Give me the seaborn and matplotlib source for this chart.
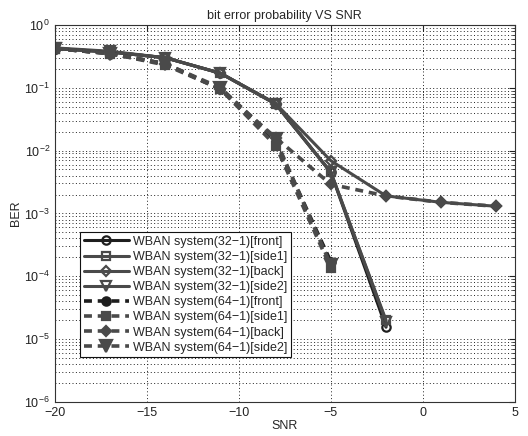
import numpy as np
import pandas as pd
import matplotlib
matplotlib.use("Agg")
import matplotlib.pyplot as plt
import seaborn as sns

# SNR points
snr_full = [-20, -17, -14, -11, -8, -5, -2, 1, 4]
snr_32 = [-20, -17, -14, -11, -8, -5, -2]
snr_64 = [-20, -17, -14, -11, -8, -5]

# BER
ber_32_front = [0.42, 0.37, 0.30, 0.17, 0.055, 0.0045, 1.55e-5]
ber_32_side1 = [0.42, 0.37, 0.30, 0.17, 0.056, 0.0045, 2.0e-5]
ber_32_back = [0.42, 0.37, 0.30, 0.17, 0.056, 0.0069, 0.0019, 0.0015, 0.0013]
ber_32_side2 = [0.43, 0.38, 0.30, 0.17, 0.055, 0.0045, 1.9e-5]
ber_64_front = [0.42, 0.35, 0.24, 0.095, 0.014, 1.7e-4]
ber_64_side1 = [0.42, 0.35, 0.23, 0.095, 0.012, 1.35e-4]
ber_64_back = [0.42, 0.35, 0.24, 0.095, 0.016, 0.0029, 0.0019, 0.0015, 0.0013]
ber_64_side2 = [0.42, 0.35, 0.24, 0.10, 0.015, 1.5e-4]

labels = ["WBAN system(32\u22121)[front]", "WBAN system(32\u22121)[side1]",
          "WBAN system(32\u22121)[back]", "WBAN system(32\u22121)[side2]",
          "WBAN system(64\u22121)[front]", "WBAN system(64\u22121)[side1]",
          "WBAN system(64\u22121)[back]", "WBAN system(64\u22121)[side2]"]

series = [
    (snr_32, ber_32_front), (snr_32, ber_32_side1), (snr_full, ber_32_back), (snr_32, ber_32_side2),
    (snr_64, ber_64_front), (snr_64, ber_64_side1), (snr_full, ber_64_back), (snr_64, ber_64_side2),
]

sns.set_style("white")
plt.rcParams['font.family'] = ['Liberation Sans', 'DejaVu Sans']
plt.rcParams['mathtext.default'] = 'regular'

fig = plt.figure(figsize=(5.28, 4.36), dpi=100)
ax = fig.add_axes([0.104, 0.078, 0.871, 0.865])

markers = ['o', 's', 'D', 'v', 'o', 's', 'D', 'v']
colors = ['#1e1e1e', '#4a4a4a', '#4a4a4a', '#4a4a4a', '#1e1e1e', '#4a4a4a', '#4a4a4a', '#4a4a4a']
msizes = [6, 6, 5, 7, 6, 6, 5, 8]

for i, (xs, ys) in enumerate(series):
    df = pd.DataFrame({'SNR': xs, 'BER': ys})
    dashed = i >= 4
    sns.lineplot(data=df, x='SNR', y='BER', ax=ax, color=colors[i], label=labels[i],
                 marker=markers[i], markersize=msizes[i],
                 markerfacecolor=colors[i] if dashed else 'none',
                 markeredgecolor=colors[i], markeredgewidth=1.6,
                 linewidth=2.6 if dashed else 2.2,
                 linestyle=(0, (2.2, 1.6)) if dashed else '-')

ax.set_yscale('log')
ax.set_xlim(-20, 5)
ax.set_ylim(1e-6, 1)
ax.set_xticks([-20, -15, -10, -5, 0, 5])
ax.set_xticklabels(['\u221220', '\u221215', '\u221210', '\u22125', '0', '5'])
ax.minorticks_on()
ax.xaxis.set_minor_locator(matplotlib.ticker.NullLocator())
ax.grid(True, which='major', linestyle=(0, (1, 2.5)), color='#222222', linewidth=0.7)
ax.grid(True, which='minor', axis='y', linestyle=(0, (1, 2.5)), color='#222222', linewidth=0.7)
ax.set_axisbelow(True)
ax.tick_params(which='both', direction='in', top=True, right=True, labelsize=9, colors='#222222')
ax.tick_params(which='major', length=4)
ax.tick_params(which='minor', length=2)
for s in ax.spines.values():
    s.set_color('#333333')
    s.set_linewidth(0.8)

ax.set_xlabel('SNR', fontsize=9, labelpad=1)
ax.set_ylabel('BER', fontsize=9, labelpad=2)
ax.set_title('bit error probability VS SNR', fontsize=9, pad=4)

leg = ax.legend(loc='lower left', bbox_to_anchor=(0.055, 0.118), fontsize=9, frameon=True,
                fancybox=False, edgecolor='#111111', framealpha=1, handlelength=3.6,
                handletextpad=0.3, labelspacing=0.25, borderpad=0.3, borderaxespad=0)
leg.get_frame().set_linewidth(0.8)

fig.savefig('out.png', dpi=100)
